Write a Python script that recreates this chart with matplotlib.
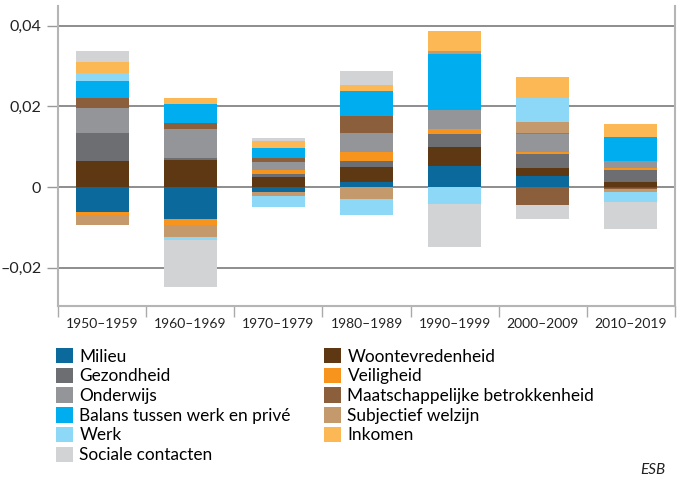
import matplotlib
matplotlib.use("Agg")
import matplotlib.pyplot as plt
from matplotlib.patches import Patch
import numpy as np

plt.rcParams['font.family'] = ['Lato', 'DejaVu Sans']

decades = ["1950–1959", "1960–1969", "1970–1979", "1980–1989",
           "1990–1999", "2000–2009", "2010–2019"]

# bijdragen per component (stapelvolgorde van onder naar boven)
milieu = [-0.0063, -0.0080, -0.0012, 0.0012, 0.0052, 0.0027, -0.0003]
woon = [0.0064, 0.0068, 0.0025, 0.0037, 0.0047, 0.0020, 0.0012]
gezondheid = [0.0069, 0.0005, 0.0007, 0.0015, 0.0032, 0.0035, 0.0030]
veiligheid = [-0.0007, -0.0013, 0.0010, 0.0023, 0.0012, 0.0005, 0.0005]
onderwijs = [0.0062, 0.0072, 0.0020, 0.0046, 0.0047, 0.0045, 0.0017]
maatsch = [0.0025, 0.0015, 0.0010, 0.0043, 0.0, -0.0045, -0.0003]
balans = [0.0042, 0.0045, 0.0025, 0.0061, 0.0141, 0.0003, 0.0060]
subjectief = [-0.0025, -0.0031, -0.0010, -0.0030, 0.0006, 0.0026, -0.0006]
werk = [0.0021, -0.0008, -0.0027, -0.0040, -0.0042, 0.0060, -0.0024]
inkomen = [0.0027, 0.0015, 0.0017, 0.0017, 0.0049, 0.0051, 0.0032]
sociale = [0.0027, -0.0116, 0.0007, 0.0035, -0.0107, -0.0035, -0.0067]

series = [
    ("Milieu", milieu, "#0b6a9b"),
    ("Woontevredenheid", woon, "#5e3813"),
    ("Gezondheid", gezondheid, "#6d6e72"),
    ("Veiligheid", veiligheid, "#f7941d"),
    ("Onderwijs", onderwijs, "#939598"),
    ("Maatschappelijke betrokkenheid", maatsch, "#8b5e3c"),
    ("Balans tussen werk en privé", balans, "#00aeef"),
    ("Subjectief welzijn", subjectief, "#c49a6c"),
    ("Werk", werk, "#8dd7f7"),
    ("Inkomen", inkomen, "#fdb856"),
    ("Sociale contacten", sociale, "#d2d3d5"),
]

legend_order = ["Milieu", "Gezondheid", "Onderwijs", "Balans tussen werk en privé",
                "Werk", "Sociale contacten", "Woontevredenheid", "Veiligheid",
                "Maatschappelijke betrokkenheid", "Subjectief welzijn", "Inkomen"]

fig = plt.figure(figsize=(6.82, 4.92), dpi=100)
ax = fig.add_axes([58 / 682, 1 - 306 / 492, 617 / 682, 300 / 492])

x = np.arange(len(decades))
pos = np.zeros(len(decades))
neg = np.zeros(len(decades))
colors = {}
for name, vals, col in series:
    v = np.array(vals)
    bottom = np.where(v >= 0, pos, neg)
    ax.bar(x, v, 0.6, bottom=bottom, color=col, linewidth=0, zorder=3)
    pos = pos + np.clip(v, 0, None)
    neg = neg + np.clip(v, None, 0)
    colors[name] = col

ax.set_xlim(-0.5, 6.5)
ax.set_ylim(-0.0295, 0.0449)

yt = [-0.02, 0, 0.02, 0.04]
ax.set_yticks(yt)
ax.set_yticklabels(["–0,02", "0", "0,02", "0,04"], fontsize=11.5, color="#222222")
for t in yt:
    ax.axhline(t, color="#7a7a7a", linewidth=1.2, zorder=1)
ax.tick_params(axis="y", length=8, width=1, color="#999999", pad=4)

ax.set_xticks(x)
ax.set_xticklabels(decades, fontsize=10, color="#222222")
ax.set_xticks(np.arange(-0.5, 7, 1), minor=True)
ax.tick_params(axis="x", which="major", length=0, pad=9)
ax.tick_params(axis="x", which="minor", length=8, width=1, color="#aaaaaa")

ax.spines["top"].set_visible(False)
for s in ["left", "right"]:
    ax.spines[s].set_color("#b5b5b5")
    ax.spines[s].set_linewidth(1.5)
ax.spines["bottom"].set_color("#b5b5b5")
ax.spines["bottom"].set_linewidth(1.5)

handles = [Patch(facecolor=colors[n], edgecolor="none", label=n) for n in legend_order]
fig.legend(handles=handles, ncol=2, loc="upper left",
           bbox_to_anchor=(56 / 682, 1 - 348 / 492), frameon=False,
           fontsize=12.4, handlelength=1.0, handleheight=1.0,
           handletextpad=0.35, labelspacing=0.18, columnspacing=1.95,
           borderaxespad=0, borderpad=0)

fig.text(665 / 682, 1 - 470 / 492, "ESB", fontsize=11, style="italic",
         ha="right", va="center", color="#222222")

fig.savefig("out.png", dpi=100)
